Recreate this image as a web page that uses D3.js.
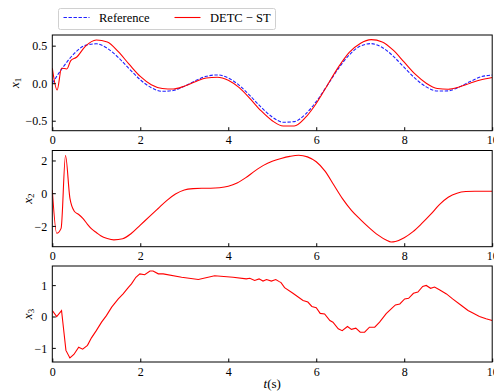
<!DOCTYPE html>
<html>
<head>
<meta charset="utf-8">
<script src="https://cdn.jsdelivr.net/npm/d3@7"></script>
<style>
  body { margin: 0; background: #fff; }
</style>
</head>
<body>
<div id="chart"></div>
<script>
// time grids and values
var tX1 = [0, 0.25, 0.5, 0.75, 1, 1.25, 1.5, 1.75, 2, 2.25, 2.5, 2.75, 3, 3.25, 3.5, 3.75, 4, 4.25, 4.5, 4.75, 5,
  5.25, 5.5, 5.75, 6, 6.25, 6.5, 6.75, 7, 7.25, 7.5, 7.75, 8, 8.25, 8.5, 8.75, 9, 9.25, 9.5, 9.75, 10];
var x1Ref = [0, 0.218, 0.396, 0.504, 0.525, 0.464, 0.342, 0.190, 0.046, -0.060, -0.108, -0.097, -0.041, 0.032, 0.092,
  0.110, 0.070, -0.029, -0.170, -0.322, -0.451, -0.520, -0.512, -0.415, -0.245, -0.030, 0.191, 0.376, 0.494, 0.527,
  0.476, 0.360, 0.210, 0.063, -0.049, -0.105, -0.102, -0.050, 0.022, 0.086, 0.108];

var tX1s = [0, 0.11, 0.21, 0.33, 0.42, 0.55, 0.75, 1, 1.25, 1.5, 1.75, 2, 2.25, 2.5, 2.75, 3, 3.25, 3.5, 3.75, 4, 4.25,
  4.5, 4.75, 5, 5.25, 5.5, 5.75, 6, 6.25, 6.5, 6.75, 7, 7.25, 7.5, 7.75, 8, 8.25, 8.5, 8.75, 9, 9.25, 9.5, 9.75, 10];
var x1Detc = [0.2, -0.09, 0.2, 0.19, 0.30, 0.345, 0.49, 0.575, 0.55, 0.42, 0.25, 0.09, -0.02, -0.07, -0.077, -0.04,
  0.02, 0.07, 0.08, 0.04, -0.06, -0.21, -0.37, -0.50, -0.57, -0.57, -0.46, -0.27, -0.03, 0.21, 0.41, 0.53, 0.58,
  0.55, 0.44, 0.28, 0.12, 0.00, -0.07, -0.08, -0.05, 0.00, 0.045, 0.075];

var tX2 = [0, 0.1, 0.2, 0.3, 0.4, 0.5, 0.6, 0.7, 0.8, 0.9, 1, 1.1, 1.25, 1.4, 1.6, 1.8, 2, 2.2, 2.4, 2.6, 2.8, 3, 3.2,
  3.4, 3.6, 3.8, 4, 4.2, 4.4, 4.6, 4.8, 5, 5.2, 5.4, 5.6, 5.8, 6, 6.2, 6.4, 6.6, 6.8, 7, 7.2, 7.4, 7.6, 7.7, 7.8, 8,
  8.2, 8.4, 8.6, 8.8, 9, 9.2, 9.4, 9.6, 10];
var x2Detc = [0.2, -2.45, -2.15, 2.3, -0.3, -1.1, -1.3, -1.55, -1.9, -2.2, -2.4, -2.6, -2.77, -2.85, -2.78, -2.45,
  -1.95, -1.45, -0.95, -0.45, -0.05, 0.2, 0.28, 0.3, 0.3, 0.33, 0.42, 0.62, 0.95, 1.35, 1.7, 1.95, 2.12, 2.25, 2.32,
  2.22, 1.92, 1.35, 0.5, -0.35, -1.05, -1.6, -2.1, -2.55, -2.88, -2.98, -2.95, -2.72, -2.35, -1.85, -1.3, -0.7,
  -0.25, 0.0, 0.1, 0.12, 0.12];

var tX3 = [0, 0.1, 0.21, 0.31, 0.4, 0.49, 0.6, 0.69, 0.8, 0.89, 1, 1.12, 1.23, 1.35, 1.5, 1.61, 1.73, 1.8, 1.9, 1.99,
  2.1, 2.22, 2.29, 2.41, 2.52, 2.94, 3.32, 3.69, 4.11, 4.41, 4.49, 4.6, 4.7, 4.79, 4.87, 4.98, 5.08, 5.15, 5.2, 5.28,
  5.47, 5.7, 5.81, 5.9, 6, 6.09, 6.19, 6.31, 6.38, 6.5, 6.59, 6.71, 6.8, 6.9, 7, 7.1, 7.21, 7.33, 7.44, 7.59, 7.71,
  7.8, 7.9, 8.01, 8.1, 8.21, 8.31, 8.42, 8.5, 8.6, 8.69, 8.8, 8.96, 9.1, 9.3, 9.45, 9.56, 9.71, 9.86, 10];
var x3Detc = [0.19, 0.0, 0.19, -1.08, -1.32, -1.21, -0.98, -1.04, -0.92, -0.68, -0.45, -0.18, 0.03, 0.30, 0.56, 0.72,
  0.93, 1.04, 1.25, 1.36, 1.33, 1.45, 1.45, 1.36, 1.36, 1.25, 1.18, 1.30, 1.25, 1.20, 1.22, 1.15, 1.2, 1.13, 1.18,
  1.13, 1.18, 1.12, 1.08, 0.92, 0.74, 0.51, 0.46, 0.32, 0.28, 0.1, 0.08, -0.13, -0.18, -0.39, -0.45, -0.32, -0.41,
  -0.37, -0.5, -0.5, -0.34, -0.34, -0.18, 0.09, 0.25, 0.37, 0.4, 0.56, 0.58, 0.74, 0.78, 0.96, 0.99, 0.9, 0.94, 0.85,
  0.72, 0.56, 0.35, 0.19, 0.11, 0.0, -0.07, -0.13];

var xTicks = [0, 2, 4, 6, 8, 10];

var FONT = "'Liberation Serif', 'DejaVu Serif', 'Times New Roman', serif";
var W = 494, H = 392;
var left = 52.3, right = 492.2;

var svg = d3.select("#chart").append("svg")
    .attr("width", W)
    .attr("height", H)
    .style("font-family", FONT);

var x = d3.scaleLinear().domain([0, 10]).range([left, right]);

var panels = [
  {top: 35, bottom: 130.7, dom: [-0.633, 0.642], ticks: [-0.5, 0, 0.5], fmt: d3.format(".1f"), lab: "1", labX: 15,
    series: [
      {t: tX1, v: x1Ref, color: "#2020ff", dash: "3.4,1.6", curve: d3.curveMonotoneX},
      {t: tX1s, v: x1Detc, color: "#ff0000", dash: null, curve: d3.curveMonotoneX}
    ]},
  {top: 150.5, bottom: 246.7, dom: [-3.27, 2.61], ticks: [-2, 0, 2], fmt: d3.format("d"), lab: "2", labX: 28,
    series: [{t: tX2, v: x2Detc, color: "#ff0000", dash: null, curve: d3.curveMonotoneX}]},
  {top: 266, bottom: 362, dom: [-1.45, 1.61], ticks: [-1, 0, 1], fmt: d3.format("d"), lab: "3", labX: 28,
    series: [{t: tX3, v: x3Detc, color: "#ff0000", dash: null, curve: d3.curveLinear}]}
];

panels.forEach(function(p, i) {
  var y = d3.scaleLinear().domain(p.dom).range([p.bottom, p.top]);

  svg.append("clipPath").attr("id", "clip" + i)
    .append("rect")
    .attr("x", left).attr("y", p.top)
    .attr("width", right - left).attr("height", p.bottom - p.top);

  // lines
  p.series.forEach(function(s) {
    var pts = s.t.map(function(t, k) { return [t, s.v[k]]; });
    var line = d3.line()
        .x(function(d) { return x(d[0]); })
        .y(function(d) { return y(d[1]); })
        .curve(s.curve);
    svg.append("path")
      .datum(pts)
      .attr("clip-path", "url(#clip" + i + ")")
      .attr("fill", "none")
      .attr("stroke", s.color)
      .attr("stroke-width", 1.1)
      .attr("stroke-dasharray", s.dash)
      .attr("d", line);
  });

  // axes, ticks pointing in
  var ya = d3.axisLeft(y).tickValues(p.ticks).tickSizeInner(-3.5).tickSizeOuter(0).tickPadding(5)
      .tickFormat(function(d) { return p.fmt(d).replace("-", "\u2212"); });
  var gy = svg.append("g").attr("transform", "translate(" + left + ",0)").call(ya)
      .attr("font-family", null).attr("font-size", 12);
  gy.select(".domain").remove();
  gy.selectAll(".tick line").attr("stroke", "#000");
  gy.selectAll(".tick text").attr("dy", "0.35em").attr("fill", "#000");

  var xa = d3.axisBottom(x).tickValues(xTicks).tickSizeInner(-3.5).tickSizeOuter(0).tickPadding(5)
      .tickFormat(d3.format("d"));
  var gx = svg.append("g").attr("transform", "translate(0," + p.bottom + ")").call(xa)
      .attr("font-family", null).attr("font-size", 12);
  gx.select(".domain").remove();
  gx.selectAll(".tick line").attr("stroke", "#000");
  gx.selectAll(".tick text").attr("fill", "#000");

  // frame
  svg.append("rect")
    .attr("x", left).attr("y", p.top)
    .attr("width", right - left).attr("height", p.bottom - p.top)
    .attr("fill", "none").attr("stroke", "#000").attr("stroke-width", 1);

  // y label
  var yl = svg.append("text")
    .attr("transform", "translate(" + p.labX + "," + ((p.top + p.bottom) / 2) + ") rotate(-90)")
    .attr("text-anchor", "middle")
    .attr("dy", "0.3em")
    .attr("font-size", 13);
  yl.append("tspan").attr("font-style", "italic").text("x");
  yl.append("tspan").attr("dy", "0.25em").attr("font-size", 9).text(p.lab);
});

// x label
var xl = svg.append("text")
  .attr("x", (left + right) / 2)
  .attr("y", 388)
  .attr("text-anchor", "middle")
  .attr("font-size", 13);
xl.append("tspan").attr("font-style", "italic").text("t");
xl.append("tspan").text("(s)");

// legend
var lg = svg.append("g").attr("font-size", 12.5);
lg.append("rect")
  .attr("x", 58.5).attr("y", 8.5).attr("width", 217).attr("height", 21)
  .attr("rx", 2).attr("fill", "#fff").attr("stroke", "#d0d0d0").attr("stroke-width", 1);
lg.append("line")
  .attr("x1", 63.5).attr("x2", 89.5).attr("y1", 17.5).attr("y2", 17.5)
  .attr("stroke", "#2020ff").attr("stroke-width", 1.1).attr("stroke-dasharray", "3.4,1.6");
lg.append("text").attr("x", 99).attr("y", 22).text("Reference");
lg.append("line")
  .attr("x1", 174.5).attr("x2", 200.5).attr("y1", 17.5).attr("y2", 17.5)
  .attr("stroke", "#ff0000").attr("stroke-width", 1.1);
lg.append("text").attr("x", 210).attr("y", 22).text("DETC \u2212 ST");
</script>
</body>
</html>
